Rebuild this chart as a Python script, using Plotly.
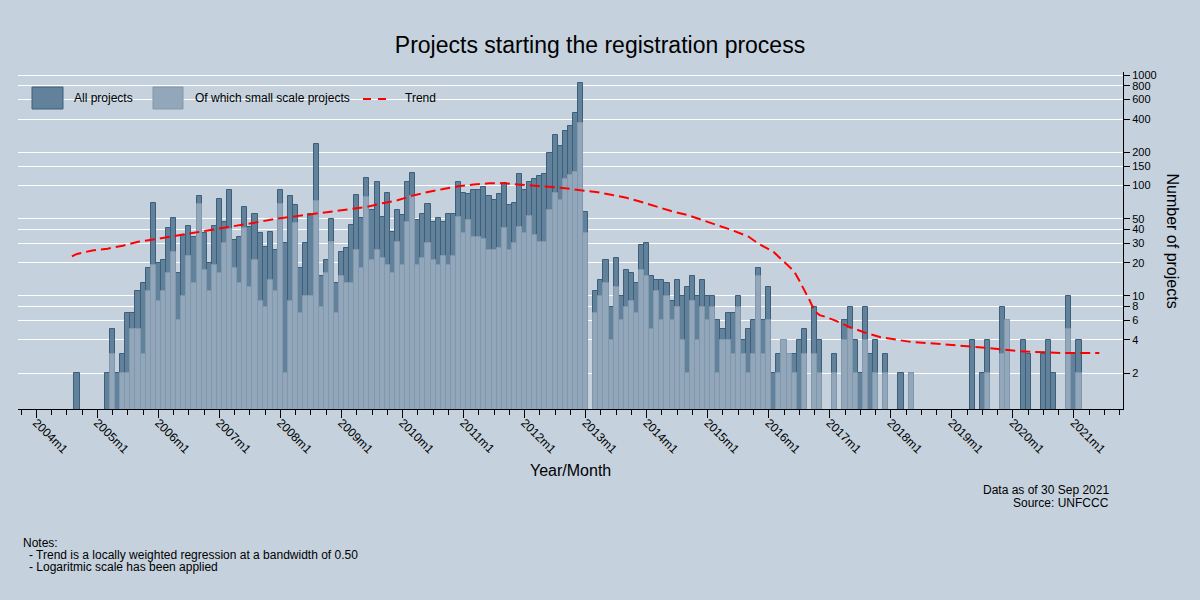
"""Projects starting the registration process - monthly bars, log scale, trend."""
import plotly.graph_objects as go

FONT = "Liberation Sans, Arial, sans-serif"
BG = "#C5D2DE"
DARK_FILL, DARK_EDGE = "#62819A", "#3E5F7A"
LIGHT_FILL, LIGHT_EDGE = "#93A7BA", "#8197AD"

# monthly counts, 2004m1 .. 2021m9
all_projects = [
    0, 0, 0, 0, 0, 0, 0, 0, 2, 0, 0, 0,                    # 2004
    0, 0, 2, 5, 2, 3, 7, 7, 11, 13, 18, 70,                # 2005
    20, 21, 41, 51, 16, 36, 43, 34, 80, 37, 20, 43,        # 2006
    75, 47, 92, 32, 34, 64, 42, 55, 37, 28, 38, 26,        # 2007
    92, 30, 80, 67, 18, 30, 55, 240, 15, 21, 50, 13,       # 2008
    25, 27, 44, 82, 51, 117, 60, 108, 52, 86, 38, 60,      # 2009
    54, 108, 130, 49, 55, 68, 47, 51, 47, 55, 55, 108,     # 2010
    86, 84, 91, 91, 97, 80, 74, 84, 106, 66, 70, 127,      # 2011
    91, 108, 115, 123, 128, 198, 287, 230, 314, 346, 455, 850,  # 2012
    57, 0, 11, 14, 21, 8, 22, 10, 17, 16, 13, 29,          # 2013
    30, 15, 14, 14, 13, 9, 14, 10, 12, 15, 10, 14,         # 2014
    10, 10, 6, 5, 7, 7, 10, 4, 5, 6, 18, 6,                # 2015
    12, 2, 3, 4, 3, 3, 4, 5, 0, 8, 4, 0,                   # 2016
    0, 3, 0, 6, 8, 4, 2, 8, 3, 4, 0, 3,                    # 2017
    0, 0, 2, 0, 2, 0, 0, 0, 0, 0, 0, 0,                    # 2018
    0, 0, 0, 0, 4, 0, 2, 4, 0, 0, 8, 6,                    # 2019
    0, 0, 4, 3, 0, 0, 3, 4, 2, 0, 0, 10,                   # 2020
    3, 4, 0, 0, 0, 0, 0, 0, 0,                             # 2021
]
small_scale = [
    0, 0, 0, 0, 0, 0, 0, 0, 0, 0, 0, 0,                    # 2004
    0, 0, 0, 3, 0, 2, 2, 5, 5, 3, 11, 19,                  # 2005
    9, 11, 16, 25, 6, 10, 23, 13, 68, 17, 11, 19,          # 2006
    16, 30, 40, 18, 13, 41, 12, 21, 9, 8, 14, 11,          # 2007
    68, 2, 9, 46, 7, 10, 10, 73, 8, 16, 31, 7,             # 2008
    15, 13, 13, 26, 18, 79, 21, 26, 22, 19, 16, 31,        # 2009
    19, 47, 80, 19, 22, 30, 21, 19, 23, 19, 23, 52,        # 2010
    37, 49, 34, 34, 33, 26, 26, 27, 41, 26, 30, 42,        # 2011
    37, 53, 36, 31, 31, 60, 86, 74, 114, 125, 133, 365,    # 2012
    37, 0, 7, 10, 13, 4, 12, 6, 8, 9, 7, 17,               # 2013
    15, 5, 11, 6, 10, 6, 8, 4, 2, 9, 4, 8,                 # 2014
    6, 8, 2, 4, 4, 3, 8, 3, 2, 3, 15, 3,                   # 2015
    6, 0, 2, 4, 3, 2, 0, 3, 0, 3, 2, 0,                    # 2016
    0, 2, 0, 4, 5, 2, 0, 4, 0, 2, 0, 2,                    # 2017
    0, 0, 0, 0, 2, 0, 0, 0, 0, 0, 0, 0,                    # 2018
    0, 0, 0, 0, 0, 0, 0, 2, 0, 0, 3, 6,                    # 2019
    0, 0, 0, 0, 0, 0, 0, 0, 0, 0, 0, 5,                    # 2020
    0, 2, 0, 0, 0, 0, 0, 0, 0,                             # 2021
]
months = list(range(len(all_projects)))  # 0 = 2004m1

# lowess trend (month index, value)
trend_month = [7, 8, 11, 14, 17, 20, 23, 26, 29, 32, 35, 38, 41, 44, 47, 50,
               53, 56, 59, 62, 65, 68, 71, 74, 77, 80, 83, 86, 89, 92, 95, 98,
               101, 104, 107, 110, 113, 116, 119, 122, 125, 128, 131, 134, 137,
               140, 142, 145, 147, 148, 149, 150, 151, 152, 153, 154, 155, 157,
               160, 163, 166, 169, 172, 175, 178, 181, 184, 187, 190, 193, 196,
               199, 202, 205, 209]
trend_value = [22.8, 24.0, 25.8, 26.8, 28.5, 31.0, 32.4, 34.1, 35.8, 38.2, 40.2,
               42.2, 44.6, 47.0, 49.8, 51.9, 54.2, 56.5, 59.2, 61.3, 64.0, 69.0,
               73.5, 81.0, 87.5, 92.8, 98.4, 102.0, 104.7, 104.7, 102.0, 100.0,
               97.5, 94.6, 90.6, 87.5, 82.4, 77.5, 70.9, 64.3, 58.3, 54.1, 48.8,
               44.0, 39.1, 34.5, 29.7, 24.9, 20.5, 18.5, 16.7, 13.8, 11.3, 9.2,
               7.3, 6.7, 6.5, 6.0, 5.2, 4.64, 4.22, 4.0, 3.83, 3.75, 3.67, 3.6,
               3.47, 3.38, 3.26, 3.17, 3.11, 3.06, 3.04, 3.04, 3.04]

year_ticks = list(range(0, 205, 12))
year_labels = [f"{2004 + i // 12}m1" for i in year_ticks]
y_ticks = [2, 4, 6, 8, 10, 20, 30, 40, 50, 100, 150, 200, 400, 600, 800, 1000]

# plot area in pixels (1200x600 page)
PL, PR, PT, PB = 18, 1123, 72, 409


def px(x):
    return (x - PL) / (PR - PL)


def py(y):
    return (PB - y) / (PB - PT)


def nz(vals):
    return [v if v > 0 else None for v in vals]


fig = go.Figure()
fig.add_trace(go.Bar(
    x=months, y=nz(all_projects), width=1, name="All projects",
    marker=dict(color=DARK_FILL, line=dict(color=DARK_EDGE, width=1)),
))
fig.add_trace(go.Bar(
    x=months, y=nz(small_scale), width=1, name="Of which small scale projects",
    marker=dict(color=LIGHT_FILL, line=dict(color=LIGHT_EDGE, width=1)),
))
fig.add_trace(go.Scatter(
    x=trend_month, y=trend_value, mode="lines", name="Trend",
    line=dict(color="#FF0000", width=2, dash="10px,5px"),
))

# legend drawn by hand (large Stata-style keys)
shapes = [
    dict(type="rect", xref="paper", yref="paper", layer="between",
         x0=px(23), x1=px(440), y0=py(115), y1=py(79),
         fillcolor=BG, line=dict(width=0)),
    dict(type="rect", xref="paper", yref="paper", layer="above",
         x0=px(32), x1=px(63), y0=py(109), y1=py(87),
         fillcolor=DARK_FILL, line=dict(color=DARK_EDGE, width=1)),
    dict(type="rect", xref="paper", yref="paper", layer="above",
         x0=px(153), x1=px(183), y0=py(109), y1=py(87),
         fillcolor=LIGHT_FILL, line=dict(color=LIGHT_EDGE, width=1)),
    dict(type="line", xref="paper", yref="paper", layer="above",
         x0=px(363), x1=px(389), y0=py(99), y1=py(99),
         line=dict(color="#FF0000", width=2, dash="8px,7px")),
]

txt = dict(xref="paper", yref="paper", showarrow=False,
           font=dict(family=FONT, size=12, color="black"))
annotations = [
    dict(txt, x=px(72), y=py(98), xanchor="left", yanchor="middle", text="All projects"),
    dict(txt, x=px(193), y=py(98), xanchor="left", yanchor="middle",
         text="Of which small scale projects"),
    dict(txt, x=px(403), y=py(98), xanchor="left", yanchor="middle", text="Trend"),
    dict(txt, x=px(570), y=py(470), xanchor="center", yanchor="middle",
         text="Year/Month", font=dict(family=FONT, size=16, color="black")),
    dict(txt, x=px(1172), y=0.5, xanchor="center", yanchor="middle", textangle=90,
         text="Number of projects", font=dict(family=FONT, size=16, color="black")),
    dict(txt, x=px(1111), y=py(490), xanchor="right", yanchor="middle",
         text="Data as of 30 Sep 2021"),
    dict(txt, x=px(1111), y=py(503), xanchor="right", yanchor="middle",
         text="Source: UNFCCC"),
    dict(txt, x=px(21), y=py(543), xanchor="left", yanchor="middle", text="Notes:"),
    dict(txt, x=px(27), y=py(555), xanchor="left", yanchor="middle",
         text="- Trend is a locally weighted regression at a bandwidth of 0.50"),
    dict(txt, x=px(27), y=py(567), xanchor="left", yanchor="middle",
         text="- Logaritmic scale has been applied"),
]

fig.update_layout(
    width=1200, height=600,
    margin=dict(l=PL, r=1200 - PR, t=PT, b=600 - PB),
    paper_bgcolor=BG, plot_bgcolor=BG,
    barmode="overlay", bargap=0, showlegend=False,
    font=dict(family=FONT, size=12, color="black"),
    title=dict(text="Projects starting the registration process",
               x=0.5, xanchor="center", y=1 - 45 / 600, yanchor="middle",
               font=dict(family=FONT, size=23, color="black")),
    shapes=shapes, annotations=annotations,
)
fig.update_xaxes(
    range=[-3.6, 213.65], tickvals=year_ticks, ticktext=year_labels,
    tickangle=45, ticks="outside", ticklen=8, tickcolor="black",
    ticklabelstandoff=-7,
    showline=True, linecolor="black", linewidth=1, showgrid=False, zeroline=False,
    tickfont=dict(family=FONT, size=12, color="black"),
    minor=dict(dtick=3, tick0=0, ticks="outside", ticklen=5, tickcolor="black",
               showgrid=False),
)
fig.update_yaxes(
    type="log", range=[-0.024, 3.028], side="right",
    tickvals=y_ticks, ticktext=[str(v) for v in y_ticks],
    ticks="outside", ticklen=6, tickcolor="black",
    showline=True, linecolor="black", linewidth=1,
    showgrid=True, gridcolor="white", gridwidth=1, zeroline=False,
    tickfont=dict(family=FONT, size=11, color="black"),
)

# no default page margin, so the figure sits at the window's top-left corner
fig.write_html("out.html", config={"displayModeBar": False},
               post_script="document.body.style.margin = '0';")
